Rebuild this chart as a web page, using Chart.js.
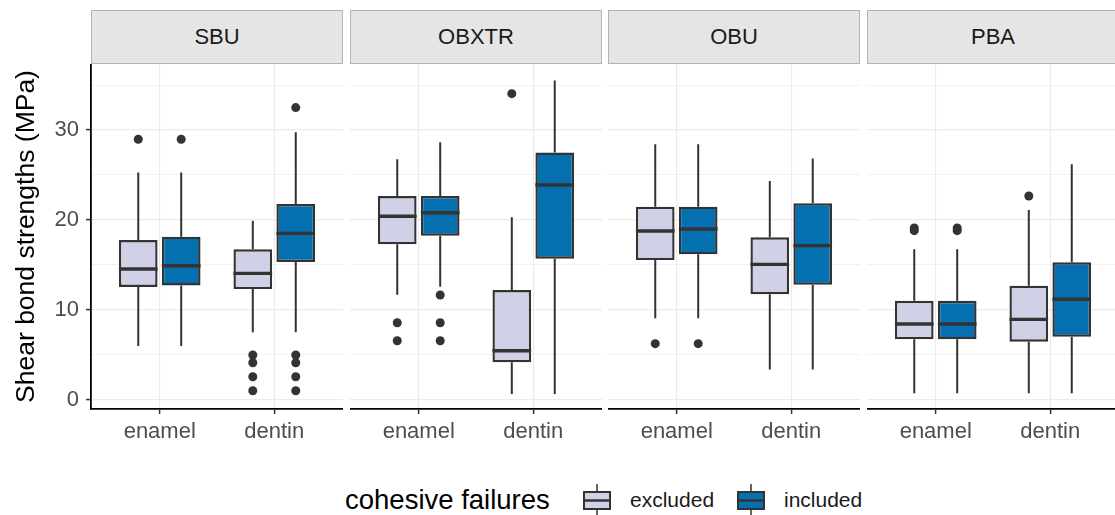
<!DOCTYPE html>
<html>
<head>
<meta charset="utf-8">
<script src="https://cdn.jsdelivr.net/npm/chart.js@4.4.1/dist/chart.umd.min.js"></script>
<style>
  body { margin: 0; background: #fff; font-family: "Liberation Sans", Arial, sans-serif; }
  #wrap { position: relative; width: 1115px; height: 515px; overflow: hidden; }
  .strip { position: absolute; top: 10px; height: 54px; box-sizing: border-box; background: #e5e5e5;
           border: 1px solid #b3b3b3; text-align: center; line-height: 52px; font-size: 22px; color: #1a1a1a; }
  .panel { position: absolute; top: 64px; }
  .legend-text { position: absolute; top: 484px; line-height: 32px; white-space: nowrap; }
</style>
</head>
<body>
<div id="wrap"></div>
<script>
const panels = ['SBU', 'OBXTR', 'OBU', 'PBA'];
const categories = ['enamel', 'dentin'];
const groups = ['excluded', 'included'];
const groupColors = ['#d0d1e6', '#0570b0'];
const yTickLabels = [0, 10, 20, 30];
const yGridValues = [0, 5, 10, 15, 20, 25, 30, 35];

// order: SBU enamel, SBU dentin, OBXTR enamel, OBXTR dentin, OBU enamel, OBU dentin, PBA enamel, PBA dentin
const excludedLow  = [5.96, 7.48, 11.67, 0.61, 9.04, 3.36, 0.69, 0.69];
const excludedQ1   = [12.53, 12.3, 17.28, 4.14, 15.53, 11.71, 6.7, 6.44];
const excludedMed  = [14.53, 14.05, 20.4, 5.44, 18.76, 15.05, 8.41, 8.93];
const excludedQ3   = [17.76, 16.72, 22.66, 12.19, 21.47, 18.06, 11.0, 12.67];
const excludedHigh = [25.26, 19.9, 26.75, 20.29, 28.42, 24.33, 16.72, 21.1];
const excludedOut  = [[28.97], [4.96, 4.1, 2.54, 0.98], [8.55, 6.55], [34.05], [6.22], [], [19.1, 18.8], [22.66]];

const includedLow  = [5.96, 7.48, 12.56, 0.61, 9.04, 3.36, 0.69, 0.69];
const includedQ1   = [12.71, 15.31, 18.24, 15.68, 16.17, 12.79, 6.7, 7.0];
const includedMed  = [14.9, 18.5, 20.8, 23.89, 18.99, 17.13, 8.41, 11.16];
const includedQ3   = [18.13, 21.77, 22.66, 27.49, 21.47, 21.85, 11.0, 15.28];
const includedHigh = [25.26, 29.75, 28.64, 35.5, 28.42, 26.82, 16.72, 26.19];
const includedOut  = [[28.97], [32.5, 4.96, 4.1, 2.54, 0.98], [11.64, 8.55, 6.55], [], [6.22], [], [19.1, 18.8], []];

const low  = [excludedLow, includedLow];
const q1   = [excludedQ1, includedQ1];
const med  = [excludedMed, includedMed];
const q3   = [excludedQ3, includedQ3];
const high = [excludedHigh, includedHigh];
const outs = [excludedOut, includedOut];

const FONT = '"Liberation Sans", Arial, sans-serif';
const panelLeft = [91, 350, 608, 867];
const panelWidth = 252;
const canvasHeight = 400;
const plotHeight = 345;
const wrap = document.getElementById('wrap');

function noPadding(axis) {
  axis.paddingTop = 0;
  axis.paddingBottom = 0;
  axis.paddingLeft = 0;
  axis.paddingRight = 0;
}

function boxExtras(k) {
  return {
    id: 'boxExtras' + k,
    afterDatasetsDraw(chart) {
      const ctx = chart.ctx;
      const yScale = chart.scales.y;
      const py = v => yScale.getPixelForValue(v);
      ctx.save();
      ctx.strokeStyle = '#333333';
      ctx.fillStyle = '#333333';
      chart.data.datasets.forEach((ds, s) => {
        chart.getDatasetMeta(s).data.forEach((bar, j) => {
          const i = k * 2 + j;
          const x = bar.x;
          const half = bar.width / 2;
          ctx.lineWidth = 2;
          ctx.beginPath();
          ctx.moveTo(x, py(q3[s][i]));
          ctx.lineTo(x, py(high[s][i]));
          ctx.moveTo(x, py(q1[s][i]));
          ctx.lineTo(x, py(low[s][i]));
          ctx.stroke();
          ctx.lineWidth = 3.4;
          ctx.beginPath();
          ctx.moveTo(x - half, py(med[s][i]));
          ctx.lineTo(x + half, py(med[s][i]));
          ctx.stroke();
          outs[s][i].forEach(v => {
            ctx.beginPath();
            ctx.arc(x, py(v), 4.5, 0, Math.PI * 2);
            ctx.fill();
          });
        });
      });
      ctx.restore();
    }
  };
}

function makePanel(k) {
  const first = k === 0;

  const strip = document.createElement('div');
  strip.className = 'strip';
  strip.style.left = panelLeft[k] + 'px';
  strip.style.width = panelWidth + 'px';
  strip.textContent = panels[k];
  wrap.appendChild(strip);

  const left = first ? 0 : panelLeft[k];
  const width = first ? panelLeft[k] + panelWidth : panelWidth;
  const holder = document.createElement('div');
  holder.className = 'panel';
  holder.style.left = left + 'px';
  const canvas = document.createElement('canvas');
  canvas.width = width;
  canvas.height = canvasHeight;
  holder.appendChild(canvas);
  wrap.appendChild(holder);

  const datasets = groups.map((g, s) => ({
    label: g,
    data: categories.map((c, j) => ({ x: j + 1, y: [q1[s][k * 2 + j], q3[s][k * 2 + j]] })),
    backgroundColor: groupColors[s],
    borderColor: '#333333',
    borderWidth: 2.4,
    borderSkipped: false,
    categoryPercentage: 0.75,
    barPercentage: 0.9
  }));

  new Chart(canvas.getContext('2d'), {
    type: 'bar',
    data: { datasets },
    options: {
      responsive: false,
      animation: false,
      devicePixelRatio: 1,
      layout: { padding: 0, autoPadding: false },
      plugins: { legend: { display: false }, tooltip: { enabled: false } },
      scales: {
        x: {
          type: 'linear',
          min: 0.4,
          max: 2.6,
          bounds: 'data',
          offset: false,
          afterBuildTicks: axis => { axis.ticks = categories.map((c, i) => ({ value: i + 1 })); },
          afterFit: axis => { axis.height = canvasHeight - plotHeight; noPadding(axis); },
          ticks: {
            callback: v => categories[Math.round(v) - 1],
            font: { family: FONT, size: 22 },
            color: '#4d4d4d',
            padding: 5,
            maxRotation: 0,
            autoSkip: false
          },
          grid: { offset: false, color: '#ebebeb', lineWidth: 1.2, tickColor: '#333333', tickLength: 5, tickWidth: 1.5 },
          border: { display: true, color: '#000000', width: 1.8 }
        },
        y: {
          min: -1.05,
          max: 37.35,
          bounds: 'data',
          afterBuildTicks: axis => { axis.ticks = yGridValues.map(v => ({ value: v })); },
          afterFit: axis => { axis.width = first ? panelLeft[0] : 0; noPadding(axis); },
          ticks: {
            display: first,
            callback: v => (yTickLabels.includes(v) ? String(v) : ''),
            font: { family: FONT, size: 22 },
            color: '#4d4d4d',
            padding: 7
          },
          grid: {
            color: '#ebebeb',
            lineWidth: c => (yTickLabels.includes(c.tick.value) ? 1.2 : 0.7),
            drawTicks: first,
            tickColor: c => (yTickLabels.includes(c.tick.value) ? '#333333' : 'rgba(0,0,0,0)'),
            tickLength: 5,
            tickWidth: 1.5
          },
          border: { display: first, color: '#000000', width: 1.8 },
          title: {
            display: first,
            text: 'Shear bond strengths (MPa)',
            font: { family: FONT, size: 26.5 },
            color: '#000000',
            padding: { top: 11, bottom: 0 }
          }
        }
      }
    },
    plugins: [boxExtras(k)]
  });
}

panels.forEach((p, k) => makePanel(k));

// legend
function addText(text, left, size, color) {
  const d = document.createElement('div');
  d.className = 'legend-text';
  d.style.left = left + 'px';
  d.style.fontSize = size + 'px';
  d.style.color = color;
  d.textContent = text;
  wrap.appendChild(d);
}
addText('cohesive failures', 345, 27.5, '#000000');
const keyLeft = [580, 734];
const labelLeft = [630, 784];
groups.forEach((g, s) => {
  const svgNS = 'http://www.w3.org/2000/svg';
  const svg = document.createElementNS(svgNS, 'svg');
  svg.setAttribute('width', '34');
  svg.setAttribute('height', '32');
  svg.style.position = 'absolute';
  svg.style.left = keyLeft[s] + 'px';
  svg.style.top = '484px';
  svg.innerHTML =
    '<line x1="17" y1="0" x2="17" y2="32" stroke="#333333" stroke-width="1.5"/>' +
    '<rect x="4" y="8" width="26" height="17" fill="' + groupColors[s] + '" stroke="#333333" stroke-width="2"/>' +
    '<line x1="3" y1="16.5" x2="31" y2="16.5" stroke="#333333" stroke-width="2.5"/>';
  wrap.appendChild(svg);
  addText(g, labelLeft[s], 21, '#1a1a1a');
});
</script>
</body>
</html>
